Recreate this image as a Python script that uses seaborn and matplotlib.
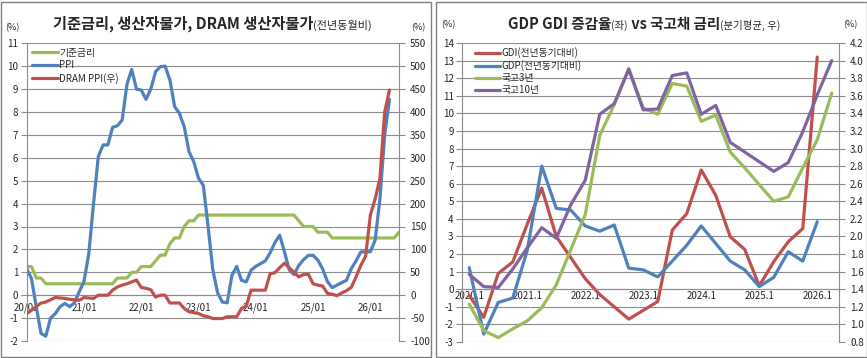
import numpy as np
import pandas as pd
import matplotlib.pyplot as plt
import seaborn as sns
from matplotlib.patches import Rectangle
from matplotlib.ticker import FormatStrFormatter

sns.set_style("white")
plt.rcParams['font.family'] = ['Noto Sans CJK KR', 'DejaVu Sans']
plt.rcParams['axes.unicode_minus'] = False

W, H = 867, 358

# ---- 왼쪽: 월별 (2020/01 ~ ) ----
base_rate = [1.25, 1.25, 0.75, 0.75, 0.5, 0.5, 0.5, 0.5, 0.5, 0.5, 0.5, 0.5, 0.5, 0.5, 0.5, 0.5,
             0.5, 0.5, 0.5, 0.75, 0.75, 0.75, 1.0, 1.0, 1.25, 1.25, 1.25, 1.5, 1.75, 1.75, 2.25,
             2.5, 2.5, 3.0, 3.25, 3.25, 3.5, 3.5, 3.5, 3.5, 3.5, 3.5, 3.5, 3.5, 3.5, 3.5, 3.5,
             3.5, 3.5, 3.5, 3.5, 3.5, 3.5, 3.5, 3.5, 3.5, 3.5, 3.25, 3.0, 3.0, 3.0, 2.75, 2.75,
             2.75, 2.5, 2.5, 2.5, 2.5, 2.5, 2.5, 2.5, 2.5, 2.5, 2.5, 2.5, 2.5, 2.5, 2.5, 2.75]
ppi = [1.16, 0.73, -0.5, -1.67, -1.79, -1.0, -0.8, -0.5, -0.36, -0.5, -0.33, 0.15, 0.6, 1.8,
       4.0, 6.05, 6.56, 6.56, 7.33, 7.4, 7.65, 9.2, 9.86, 9.0, 8.96, 8.55, 9.0, 9.76, 9.98, 10.0,
       9.4, 8.23, 7.94, 7.36, 6.27, 5.83, 5.1, 4.8, 3.0, 1.1, 0.1, -0.3, -0.33, 0.87, 1.26, 0.65,
       0.58, 1.09, 1.26, 1.38, 1.5, 1.85, 2.3, 2.62, 1.9, 1.1, 0.9, 1.3, 1.55, 1.74, 1.74, 1.53,
       1.15, 0.6, 0.33, 0.44, 0.55, 0.65, 1.16, 1.5, 1.89, 1.89, 1.9, 2.4, 4.2, 7.0, 8.55]
dram_ppi = [-40, -33, -25, -17, -15, -10, -5, -6, -7, -9, -10, -11, -5, -6, -7, 0, 0, 0, 11,
            18, 22, 25, 29, 33, 17, 15, 12, -4, 0, 0, -17, -17, -17, -29, -36, -38, -40, -45,
            -47, -51, -51, -51, -47, -47, -47, -29, -24, 11, 11, 11, 11, 47, 49, 60, 70, 60, 50,
            40, 45, 46, 25, 22, 20, 4, 2, -1, 5, 10, 17, 40, 65, 85, 175, 210, 255, 400, 448]
year_labels = ['20/01', '21/01', '22/01', '23/01', '24/01', '25/01', '26/01']

# ---- 오른쪽: 분기별 (2020.1 ~ 2026.2) ----
quarters = ['2020.1', '2020.2', '2020.3', '2020.4', '2021.1', '2021.2', '2021.3', '2021.4',
            '2022.1', '2022.2', '2022.3', '2022.4', '2023.1', '2023.2', '2023.3', '2023.4',
            '2024.1', '2024.2', '2024.3', '2024.4', '2025.1', '2025.2', '2025.3', '2025.4',
            '2026.1', '2026.2']
gdi = [-0.35, -1.6, 0.9, 1.55, 3.7, 5.75, 3.0, 1.8, 0.6, -0.3, -1.0, -1.7, -1.2, -0.7, 3.36,
       4.3, 6.78, 5.34, 2.98, 2.26, 0.19, 1.57, 2.7, 3.45, 13.2]
gdp = [1.23, -2.55, -0.75, -0.5, 2.2, 7.0, 4.6, 4.5, 3.6, 3.3, 3.65, 1.2, 1.1, 0.7, 1.6, 2.5,
       3.6, 2.6, 1.6, 1.1, 0.15, 0.68, 2.13, 1.6, 3.84]
ktb3 = [1.23, 0.93, 0.85, 0.95, 1.04, 1.19, 1.45, 1.85, 2.25, 3.15, 3.5, 3.91, 3.46, 3.39, 3.74,
        3.71, 3.31, 3.38, 2.96, 2.78, 2.59, 2.40, 2.45, 2.78, 3.1, 3.63]
ktb10 = [1.57, 1.43, 1.42, 1.63, 1.87, 2.10, 1.98, 2.36, 2.64, 3.39, 3.51, 3.90, 3.44, 3.45,
         3.83, 3.86, 3.39, 3.49, 3.07, 2.96, 2.85, 2.74, 2.84, 3.19, 3.61, 4.0]

GREEN, BLUE, RED, PURPLE = '#9BBB59', '#4F81BD', '#C0504D', '#8064A2'
GRID = '#8c8c8c'
LW = 2.3

fig = plt.figure(figsize=(W / 100, H / 100), dpi=100)

# 패널 테두리
for x0, x1 in [(0.5, 431), (436, 866.5)]:
    fig.patches.append(Rectangle((x0 / W, 1.5 / H), (x1 - x0) / W, (H - 3) / H,
                                 transform=fig.transFigure, fill=False,
                                 edgecolor='#7f7f7f', linewidth=1.0))


def style_axes(ax, ax2):
    ax.grid(axis='y', color=GRID, linewidth=0.8)
    ax.grid(axis='x', visible=False)
    for s in ['top', 'right']:
        ax.spines[s].set_visible(False)
    for s in ['top', 'left', 'bottom']:
        ax2.spines[s].set_visible(False)
    ax.spines['left'].set_color(GRID)
    ax2.spines['right'].set_color(GRID)
    ax.spines['bottom'].set_position(('data', 0))
    ax.spines['bottom'].set_color(GRID)
    ax.tick_params(axis='y', direction='out', length=4, color=GRID, labelsize=7, pad=2)
    ax2.tick_params(axis='y', direction='out', length=4, color=GRID, labelsize=7, pad=4)
    ax.tick_params(axis='x', labelsize=7, pad=1)


# ---------------- 왼쪽 차트 ----------------
axL = fig.add_axes([26.7 / W, (H - 341) / H, (399 - 26.7) / W, (341 - 43.3) / H])
axL2 = axL.twinx()
sns.lineplot(x=np.arange(len(base_rate)), y=base_rate, ax=axL, color=GREEN, linewidth=LW)
sns.lineplot(x=np.arange(len(ppi)), y=ppi, ax=axL, color=BLUE, linewidth=LW)
sns.lineplot(x=np.arange(len(dram_ppi)), y=dram_ppi, ax=axL2, color=RED, linewidth=LW)
axL.set_xlim(0, 78)
axL.set_ylim(-2, 11)
axL.set_yticks(range(-2, 12))
axL2.set_ylim(-100, 550)
axL2.set_yticks(range(-100, 551, 50))
axL.set_xticks(range(0, 73, 12))
axL.set_xticklabels(year_labels)
axL.tick_params(axis='x', direction='out', length=4, color=GRID)
style_axes(axL, axL2)
axL.set_xlabel('')
axL.set_ylabel('')
axL2.set_ylabel('')

handles = [plt.Line2D([], [], color=c, linewidth=LW) for c in [GREEN, BLUE, RED]]
axL2.legend(handles, ['기준금리', 'PPI', 'DRAM PPI(우)'], loc='upper left',
            bbox_to_anchor=(0.015, 0.985), frameon=False, fontsize=7,
            handlelength=2.6, handletextpad=0.15, labelspacing=0.25,
            borderpad=0, borderaxespad=0)

# ---------------- 오른쪽 차트 ----------------
axR = fig.add_axes([462 / W, (H - 342) / H, (839 - 462) / W, (342 - 43) / H])
axR2 = axR.twinx()
sns.lineplot(x=np.arange(len(gdi)), y=gdi, ax=axR, color=RED, linewidth=LW)
sns.lineplot(x=np.arange(len(gdp)), y=gdp, ax=axR, color=BLUE, linewidth=LW)
sns.lineplot(x=np.arange(len(ktb3)), y=ktb3, ax=axR2, color=GREEN, linewidth=LW)
sns.lineplot(x=np.arange(len(ktb10)), y=ktb10, ax=axR2, color=PURPLE, linewidth=LW)
axR.set_xlim(-0.5, len(quarters) - 0.5)
axR.set_ylim(-3, 14)
axR.set_yticks(range(-3, 15))
axR2.set_ylim(0.8, 4.2)
axR2.set_yticks(np.arange(8, 43, 2) / 10)
axR2.yaxis.set_major_formatter(FormatStrFormatter('%.1f'))
axR.set_xticks(range(0, len(quarters), 4))
axR.set_xticklabels(quarters[::4])
axR.set_xticks(np.arange(-0.5, len(quarters), 1), minor=True)
axR.tick_params(axis='x', which='major', length=0)
axR.tick_params(axis='x', which='minor', direction='out', length=4, color=GRID)
style_axes(axR, axR2)
axR.set_xlabel('')
axR.set_ylabel('')
axR2.set_ylabel('')

handles = [plt.Line2D([], [], color=c, linewidth=LW) for c in [RED, BLUE, GREEN, PURPLE]]
axR2.legend(handles, ['GDI(전년동기대비)', 'GDP(전년동기대비)', '국고3년', '국고10년'],
            loc='upper left', bbox_to_anchor=(0.034, 0.985), frameon=False, fontsize=7,
            handlelength=2.6, handletextpad=0.15, labelspacing=0.2,
            borderpad=0, borderaxespad=0)

# ---------------- 제목, 단위 ----------------
renderer = fig.canvas.get_renderer()


def title_segments(x_px, base_px, segs):
    x = x_px
    for txt, size, weight in segs:
        t = fig.text(x / W, 1 - base_px / H, txt, fontsize=size, fontweight=weight,
                     ha='left', va='baseline')
        x += t.get_window_extent(renderer).width


title_segments(53, 29, [('기준금리, 생산자물가, DRAM 생산자물가', 11, 'bold'),
                        ('(전년동월비)', 8, 'normal')])
title_segments(508, 29, [('GDP GDI 증감율', 10.5, 'bold'), ('(좌)', 7.5, 'normal'),
                         (' vs 국고채 금리', 10.5, 'bold'), ('(분기평균, 우)', 7.5, 'normal')])

for xp, yp in [(12, 28), (418, 28), (448, 25), (850, 25)]:
    fig.text(xp / W, 1 - yp / H, '(%)', fontsize=6.5, ha='center', va='center')

fig.savefig('out.png', dpi=100)
